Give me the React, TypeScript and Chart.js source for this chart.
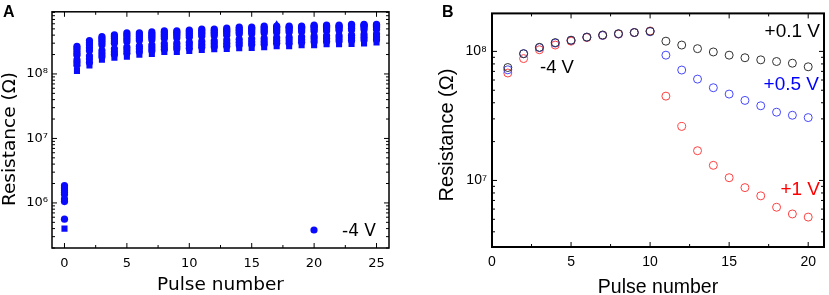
import React, { useEffect, useRef } from 'react';
import { Chart, registerables } from 'chart.js';
Chart.register(...registerables);

// ---------- Panel A data ----------
const pulsesA = [0, 1, 2, 3, 4, 5, 6, 7, 8, 9, 10, 11, 12, 13, 14, 15, 16, 17, 18, 19, 20, 21, 22, 23, 24, 25];
const cycleA1 = [4.0e5, 1.11e8, 1.36e8, 1.67e8, 1.79e8, 1.85e8, 1.98e8, 2.05e8, 2.19e8, 2.2e8, 2.27e8, 2.35e8, 2.43e8, 2.45e8, 2.51e8, 2.52e8, 2.6e8, 2.69e8, 2.7e8, 2.78e8, 2.8e8, 2.88e8, 2.9e8, 2.92e8, 2.98e8, 3.08e8];
const cycleA2 = [5.6e5, 1.36e8, 1.5e8, 1.85e8, 2.0e8, 2.1e8, 2.2e8, 2.3e8, 2.4e8, 2.45e8, 2.5e8, 2.6e8, 2.65e8, 2.7e8, 2.8e8, 2.85e8, 2.9e8, 3.0e8, 3.0e8, 3.1e8, 3.15e8, 3.2e8, 3.25e8, 3.3e8, 3.35e8, 3.4e8];
const cycleA3 = [1.05e6, 1.5e8, 1.7e8, 2.05e8, 2.2e8, 2.35e8, 2.45e8, 2.55e8, 2.65e8, 2.7e8, 2.8e8, 2.85e8, 2.95e8, 3.0e8, 3.1e8, 3.15e8, 3.2e8, 3.3e8, 3.35e8, 3.4e8, 3.5e8, 3.55e8, 3.6e8, 3.65e8, 3.7e8, 3.75e8];
const cycleA4 = [1.15e6, 1.65e8, 1.9e8, 2.3e8, 2.45e8, 2.6e8, 2.7e8, 2.8e8, 2.95e8, 3.0e8, 3.1e8, 3.2e8, 3.25e8, 3.35e8, 3.45e8, 3.5e8, 3.55e8, 3.65e8, 3.7e8, 3.75e8, 3.85e8, 3.9e8, 3.95e8, 4.0e8, 4.1e8, 4.15e8];
const cycleA5 = [1.25e6, 1.8e8, 2.1e8, 2.55e8, 2.7e8, 2.85e8, 3.0e8, 3.1e8, 3.25e8, 3.3e8, 3.4e8, 3.5e8, 3.6e8, 3.7e8, 3.8e8, 3.85e8, 3.9e8, 6.0e8, 4.1e8, 4.15e8, 4.25e8, 4.3e8, 4.35e8, 4.45e8, 4.5e8, 4.55e8];
const cycleA6 = [1.35e6, 1.95e8, 2.3e8, 2.8e8, 3.0e8, 3.15e8, 3.3e8, 3.4e8, 3.55e8, 3.6e8, 3.7e8, 3.85e8, 3.9e8, 4.0e8, 4.15e8, 4.2e8, 4.3e8, 4.4e8, 4.45e8, 4.5e8, 4.6e8, 4.65e8, 4.7e8, 4.8e8, 4.85e8, 4.9e8];
const cycleA7 = [1.45e6, 2.1e8, 2.55e8, 3.05e8, 3.25e8, 3.45e8, 3.55e8, 3.7e8, 3.85e8, 3.9e8, 4.0e8, 4.15e8, 4.2e8, 4.3e8, 4.45e8, 4.5e8, 4.6e8, 4.7e8, 4.75e8, 4.8e8, 4.95e8, 5.0e8, 5.0e8, 5.1e8, 5.2e8, 5.25e8];
const cycleA8 = [1.55e6, 2.3e8, 2.8e8, 3.3e8, 3.55e8, 3.75e8, 3.85e8, 3.95e8, 4.1e8, 4.15e8, 4.25e8, 4.4e8, 4.45e8, 4.6e8, 4.75e8, 4.8e8, 4.9e8, 5.0e8, 5.05e8, 5.1e8, 5.25e8, 5.3e8, 5.3e8, 5.4e8, 5.5e8, 5.5e8];
const cycleA9 = [1.7e6, 2.5e8, 3.05e8, 3.55e8, 3.8e8, 4.05e8, 4.1e8, 4.2e8, 4.4e8, 4.4e8, 4.55e8, 4.7e8, 4.7e8, 4.85e8, 5.0e8, 5.05e8, 5.2e8, 5.3e8, 5.3e8, 5.3e8, 5.5e8, 5.5e8, 5.5e8, 5.65e8, 5.7e8, 5.7e8];
const cycleA10 = [1.85e6, 2.69e8, 3.3e8, 3.78e8, 4.05e8, 4.34e8, 4.34e8, 4.49e8, 4.64e8, 4.64e8, 4.8e8, 4.97e8, 4.97e8, 5.14e8, 5.32e8, 5.32e8, 5.51e8, 5.5e8, 5.51e8, 5.51e8, 5.7e8, 5.7e8, 5.7e8, 5.89e8, 5.89e8, 5.89e8];
const cyclesA = [cycleA1, cycleA2, cycleA3, cycleA4, cycleA5, cycleA6, cycleA7, cycleA8, cycleA9, cycleA10];
const markersA = ['rect', 'circle', 'circle', 'circle', 'triangle', 'circle', 'circle', 'circle', 'circle', 'circle'];
const xTicksA = [0, 5, 10, 15, 20, 25];
const xMinorA = [2.5, 7.5, 12.5, 17.5, 22.5];
const yDecadesA = [1e6, 1e7, 1e8];

// ---------- Panel B data ----------
const pulsesB = [1, 2, 3, 4, 5, 6, 7, 8, 9, 10, 11, 12, 13, 14, 15, 16, 17, 18, 19, 20];
const resB01 = [7.5e7, 9.6e7, 1.075e8, 1.17e8, 1.22e8, 1.29e8, 1.34e8, 1.37e8, 1.4e8, 1.43e8, 1.2e8, 1.12e8, 1.05e8, 9.9e7, 9.35e7, 8.93e7, 8.6e7, 8.35e7, 8.1e7, 7.6e7];
const resB05 = [7.2e7, 9.6e7, 1.07e8, 1.16e8, 1.22e8, 1.29e8, 1.33e8, 1.37e8, 1.4e8, 1.42e8, 9.35e7, 7.17e7, 6.1e7, 5.23e7, 4.67e7, 4.17e7, 3.79e7, 3.38e7, 3.2e7, 3.07e7];
const resB1 = [6.8e7, 8.8e7, 1.03e8, 1.12e8, 1.2e8, 1.28e8, 1.33e8, 1.36e8, 1.4e8, 1.44e8, 4.5e7, 2.62e7, 1.7e7, 1.31e7, 1.05e7, 8.8e6, 7.6e6, 6.2e6, 5.5e6, 5.2e6];
const xTicksB = [0, 5, 10, 15, 20];
const xMinorB = [2.5, 7.5, 12.5, 17.5];
const yDecadesB = [1e7, 1e8];

const SUP = ['⁰', '¹', '²', '³', '⁴', '⁵', '⁶', '⁷', '⁸', '⁹'];
const decadeLabel = (v: number) => '10' + SUP[Math.round(Math.log10(v))];

const framePlugin = {
  id: 'frame',
  afterDatasetsDraw(chart: any, _args: any, opts: any) {
    const { ctx, chartArea } = chart;
    const { left, right, top, bottom } = chartArea;
    const x = chart.scales.x;
    const y = chart.scales.y;
    ctx.save();
    ctx.strokeStyle = '#000';
    ctx.lineWidth = 1;
    const line = (x1: number, y1: number, x2: number, y2: number) => {
      ctx.beginPath();
      ctx.moveTo(x1, y1);
      ctx.lineTo(x2, y2);
      ctx.stroke();
    };
    for (const v of opts.xMajor) {
      const p = x.getPixelForValue(v);
      line(p, bottom, p, bottom - 5);
      line(p, top, p, top + 5);
    }
    for (const v of opts.xMinor) {
      const p = x.getPixelForValue(v);
      line(p, bottom, p, bottom - 3);
      line(p, top, p, top + 3);
    }
    const yMin = y.min, yMax = y.max;
    for (let e = Math.floor(Math.log10(yMin)); e <= Math.ceil(Math.log10(yMax)); e++) {
      for (let m = 1; m <= 9; m++) {
        const v = m * Math.pow(10, e);
        if (v < yMin || v > yMax) continue;
        const p = y.getPixelForValue(v);
        const len = m === 1 ? 5 : 3;
        line(left, p, left + len, p);
        line(right, p, right - len, p);
      }
    }
    ctx.lineWidth = opts.frameWidth;
    ctx.strokeRect(left, top, right - left, bottom - top);
    ctx.restore();
  },
};

const textPlugin = {
  id: 'texts',
  afterDraw(chart: any, _args: any, opts: any) {
    const { ctx } = chart;
    ctx.save();
    for (const t of opts.items) {
      ctx.save();
      ctx.font = t.font;
      ctx.fillStyle = t.color || '#000';
      ctx.textAlign = t.align || 'left';
      ctx.textBaseline = 'alphabetic';
      ctx.translate(t.x, t.y);
      if (t.rotate) ctx.rotate(t.rotate);
      ctx.fillText(t.text, 0, 0);
      ctx.restore();
    }
    if (opts.dots) {
      for (const d of opts.dots) {
        ctx.beginPath();
        ctx.fillStyle = d.color;
        ctx.arc(d.x, d.y, d.r, 0, Math.PI * 2);
        ctx.fill();
      }
    }
    ctx.restore();
  },
};

export default function App() {
  const aRef = useRef<HTMLCanvasElement>(null);
  const bRef = useRef<HTMLCanvasElement>(null);

  useEffect(() => {
    const fontA = 'DejaVu Sans';
    const fontB = 'Liberation Sans';
    const blue = 'rgb(10,10,255)';

    const chartA = new Chart(aRef.current as HTMLCanvasElement, {
      type: 'scatter',
      data: {
        datasets: cyclesA.map((vals, i) => ({
          label: 'cycle ' + (i + 1),
          data: pulsesA.map((p, j) => ({ x: p, y: vals[j] })),
          pointStyle: markersA[i] as any,
          pointRadius: markersA[i] === 'rect' ? 4.3 : 3.6,
          backgroundColor: blue,
          borderColor: blue,
          borderWidth: 0,
          showLine: false,
        })),
      },
      plugins: [framePlugin, textPlugin],
      options: {
        animation: false,
        responsive: false,
        devicePixelRatio: 1,
        layout: { padding: { left: 0, right: 26, top: 1, bottom: 0 } },
        scales: {
          x: {
            type: 'linear',
            min: -1,
            max: 26,
            afterBuildTicks: (s: any) => { s.ticks = xTicksA.map((v) => ({ value: v })); },
            afterFit: (s: any) => { s.height = 47; },
            grid: { display: false, drawTicks: false },
            border: { display: false },
            ticks: { font: { family: fontA, size: 13 }, color: '#000', padding: 8, maxRotation: 0, autoSkip: false },
            title: { display: true, text: 'Pulse number', color: '#000', font: { family: fontA, size: 18.5, lineHeight: 1 }, padding: { top: 0, bottom: 0.5 } },
          },
          y: {
            type: 'logarithmic',
            min: 2.0e5,
            max: 9.2e8,
            afterBuildTicks: (s: any) => { s.ticks = yDecadesA.map((v) => ({ value: v })); },
            afterFit: (s: any) => { s.width = 52; },
            grid: { display: false, drawTicks: false },
            border: { display: false },
            ticks: { font: { family: fontA, size: 13 }, color: '#000', padding: 4, autoSkip: false, callback: (v: any) => decadeLabel(Number(v)) },
          },
        },
        plugins: {
          legend: { display: false },
          tooltip: { enabled: false },
          frame: { xMajor: xTicksA, xMinor: xMinorA, frameWidth: 1.5 },
          texts: {
            items: [
              { text: 'A', x: 3, y: 17, font: `bold 16px "Liberation Sans"` },
              { text: 'Resistance (Ω)', x: 15, y: 139, font: `18.5px "${fontA}"`, align: 'center', rotate: -Math.PI / 2 },
              { text: '-4 V', x: 342, y: 236, font: `17px "${fontA}"` },
            ],
            dots: [{ x: 314, y: 230, r: 3.6, color: blue }],
          },
        } as any,
      },
    } as any);

    const chartB = new Chart(bRef.current as HTMLCanvasElement, {
      type: 'scatter',
      data: {
        datasets: [
          { label: '+0.1 V', data: pulsesB.map((p, j) => ({ x: p, y: resB01[j] })), borderColor: '#303030' },
          { label: '+0.5 V', data: pulsesB.map((p, j) => ({ x: p, y: resB05[j] })), borderColor: '#4646ff' },
          { label: '+1 V', data: pulsesB.map((p, j) => ({ x: p, y: resB1[j] })), borderColor: '#ff4040' },
        ].map((d) => ({
          ...d,
          pointStyle: 'circle',
          pointRadius: 4,
          borderWidth: 1,
          backgroundColor: 'rgba(0,0,0,0)',
          showLine: false,
        })),
      },
      plugins: [framePlugin, textPlugin],
      options: {
        animation: false,
        responsive: false,
        devicePixelRatio: 1,
        layout: { padding: { left: 0, right: 1, top: 1, bottom: 0 } },
        scales: {
          x: {
            type: 'linear',
            min: 0,
            max: 21,
            afterBuildTicks: (s: any) => { s.ticks = xTicksB.map((v) => ({ value: v })); },
            afterFit: (s: any) => { s.height = 48; },
            grid: { display: false, drawTicks: false },
            border: { display: false },
            ticks: { font: { family: fontB, size: 14 }, color: '#000', padding: 7, maxRotation: 0, autoSkip: false },
            title: { display: true, text: 'Pulse number', color: '#000', font: { family: fontB, size: 19.5, lineHeight: 1 }, padding: { top: 0, bottom: -2 } },
          },
          y: {
            type: 'logarithmic',
            min: 3.05e6,
            max: 1.97e8,
            afterBuildTicks: (s: any) => { s.ticks = yDecadesB.map((v) => ({ value: v })); },
            afterFit: (s: any) => { s.width = 77; },
            grid: { display: false, drawTicks: false },
            border: { display: false },
            ticks: { font: { family: fontB, size: 14 }, color: '#000', padding: 5, autoSkip: false, callback: (v: any) => decadeLabel(Number(v)) },
          },
        },
        plugins: {
          legend: { display: false },
          tooltip: { enabled: false },
          frame: { xMajor: xTicksB, xMinor: xMinorB, frameWidth: 2 },
          texts: {
            items: [
              { text: 'B', x: 27, y: 17, font: `bold 16px "${fontB}"` },
              { text: 'Resistance (Ω)', x: 38, y: 135, font: `20px "${fontB}"`, align: 'center', rotate: -Math.PI / 2 },
              { text: '-4 V', x: 125, y: 73, font: `18.5px "${fontB}"` },
              { text: '+0.1 V', x: 405, y: 37, font: `19px "${fontB}"`, align: 'right' },
              { text: '+0.5 V', x: 404, y: 90, font: `19px "${fontB}"`, align: 'right', color: '#0000ff' },
              { text: '+1 V', x: 405, y: 195, font: `19px "${fontB}"`, align: 'right', color: '#ff0000' },
            ],
          },
        } as any,
      },
    } as any);

    return () => {
      chartA.destroy();
      chartB.destroy();
    };
  }, []);

  return (
    <div style={{ position: 'absolute', left: 0, top: 0, width: 829, height: 295, background: '#fff', overflow: 'hidden' }}>
      <canvas ref={aRef} width={415} height={295} style={{ position: 'absolute', left: 0, top: 0 }} />
      <canvas ref={bRef} width={414} height={295} style={{ position: 'absolute', left: 415, top: 0 }} />
    </div>
  );
}
